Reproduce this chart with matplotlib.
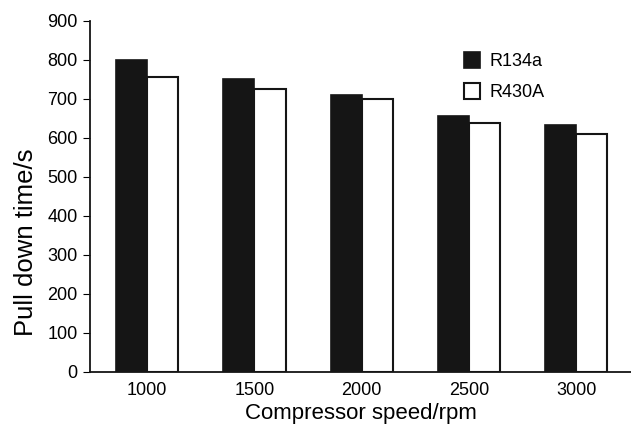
import matplotlib
matplotlib.use("Agg")
import matplotlib.pyplot as plt
import numpy as np

plt.rcParams['font.family'] = ['Liberation Sans', 'DejaVu Sans']

speeds = ['1000', '1500', '2000', '2500', '3000']
r134a = [800, 750, 710, 655, 632]
r430a = [755, 725, 700, 637, 610]
yticks = [0, 100, 200, 300, 400, 500, 600, 700, 800, 900]

fig = plt.figure(figsize=(6.31, 4.26), dpi=100)
ax = fig.add_axes([0.143, 0.127, 0.857, 0.824])

x = np.arange(len(speeds))
w = 0.29
ax.bar(x - w/2, r134a, width=w, color='#151515', edgecolor='#151515', linewidth=1.2, label='R134a')
ax.bar(x + w/2, r430a, width=w, color='white', edgecolor='#151515', linewidth=1.5, label='R430A')

ax.set_xlim(-0.53, 4.51)
ax.set_ylim(0, 900)
ax.set_yticks(yticks)
ax.set_xticks(x)
ax.set_xticklabels(speeds)
ax.tick_params(axis='x', length=0, labelsize=13, pad=7)
ax.tick_params(axis='y', length=5, labelsize=13, direction='out', pad=4)
for s in ['top', 'right']:
    ax.spines[s].set_visible(False)
for s in ['left', 'bottom']:
    ax.spines[s].set_linewidth(1.3)
    ax.spines[s].set_color('#151515')

ax.set_xlabel('Compressor speed/rpm', fontsize=16, labelpad=3)
ax.set_ylabel('Pull down time/s', fontsize=18.5)
ax.yaxis.set_label_coords(-0.097, 0.37)

ax.legend(loc='upper left', bbox_to_anchor=(0.736, 0.878), bbox_transform=fig.transFigure,
          frameon=False, fontsize=13, handlelength=0.85, handleheight=1.0,
          handletextpad=0.55, labelspacing=0.68, borderaxespad=0, borderpad=0)

fig.savefig('out.png', dpi=100)
